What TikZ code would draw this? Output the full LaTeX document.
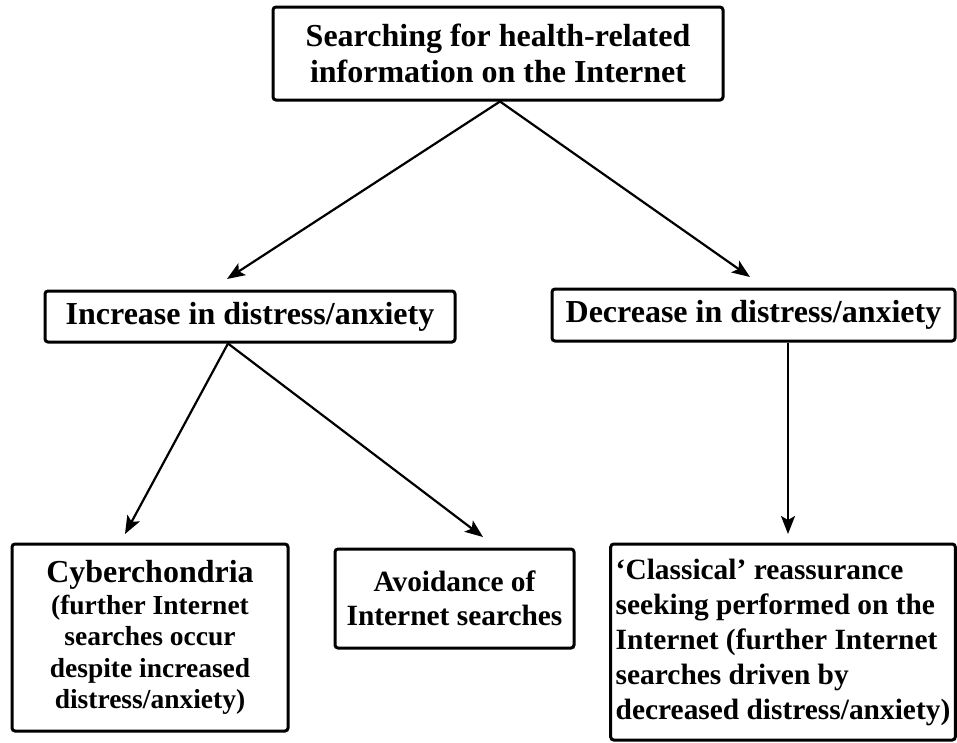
\documentclass[tikz,border=0pt]{standalone}
\usepackage{fontspec}
\setmainfont{Liberation Serif}
\usetikzlibrary{arrows.meta}

\begin{document}
\begin{tikzpicture}[x=1pt,y=-1pt,
  box/.style={draw,line width=3pt,rounded corners=3pt,inner sep=0pt,align=center,font=\bfseries},
  arr/.style={-{Stealth[length=18pt,width=14pt,inset=4pt]},line width=2.2pt}]
\useasboundingbox (0,0) rectangle (957,742);
    \node[box,minimum width=450pt,minimum height=93pt,font=\bfseries\fontsize{32}{36}\selectfont] (search) at (498,53.5) {Searching for health-related\\information on the Internet};
    \node[box,minimum width=410pt,minimum height=51pt,font=\bfseries\fontsize{32}{36}\selectfont] (inc) at (250,316.5) {Increase in distress/anxiety};
    \node[box,minimum width=403pt,minimum height=52pt,font=\bfseries\fontsize{32}{36}\selectfont] (dec) at (753.5,315) {Decrease in distress/anxiety};
    \node[box,minimum width=276pt,minimum height=187pt,font=\bfseries\fontsize{27.5}{31.5}\selectfont] (cyber) at (150,637.5) {{\fontsize{32}{31.5}\selectfont Cyberchondria}\\(further Internet\\searches occur\\despite increased\\distress/anxiety)};
    \node[box,minimum width=239pt,minimum height=99pt,font=\bfseries\fontsize{29.4}{34}\selectfont] (avoid) at (454.5,598.5) {Avoidance of\\Internet searches};
    \node[box,minimum width=344pt,minimum height=196pt,align=left,inner xsep=5pt,font=\bfseries\fontsize{29.4}{35}\selectfont] (reass) at (783,642) {`Classical' reassurance\\seeking performed on the\\Internet (further Internet\\searches driven by\\decreased distress/anxiety)};

    \coordinate (incTip) at (227,279);
    \coordinate (decTip) at (750,277);
    \coordinate (cyberTip) at (125,534);
    \coordinate (avoidTip) at (483,537);
    \coordinate (reassTip) at (788,534);

    \draw[arr] ([xshift=2pt]search.south) -- (incTip);
    \draw[arr] ([xshift=2pt]search.south) -- (decTip);
    \draw[arr] ([xshift=-22pt]inc.south) -- (cyberTip);
    \draw[arr] ([xshift=-22pt]inc.south) -- (avoidTip);
    \draw[arr] (dec.south -| reassTip) -- (reassTip);

\end{tikzpicture}
\end{document}
